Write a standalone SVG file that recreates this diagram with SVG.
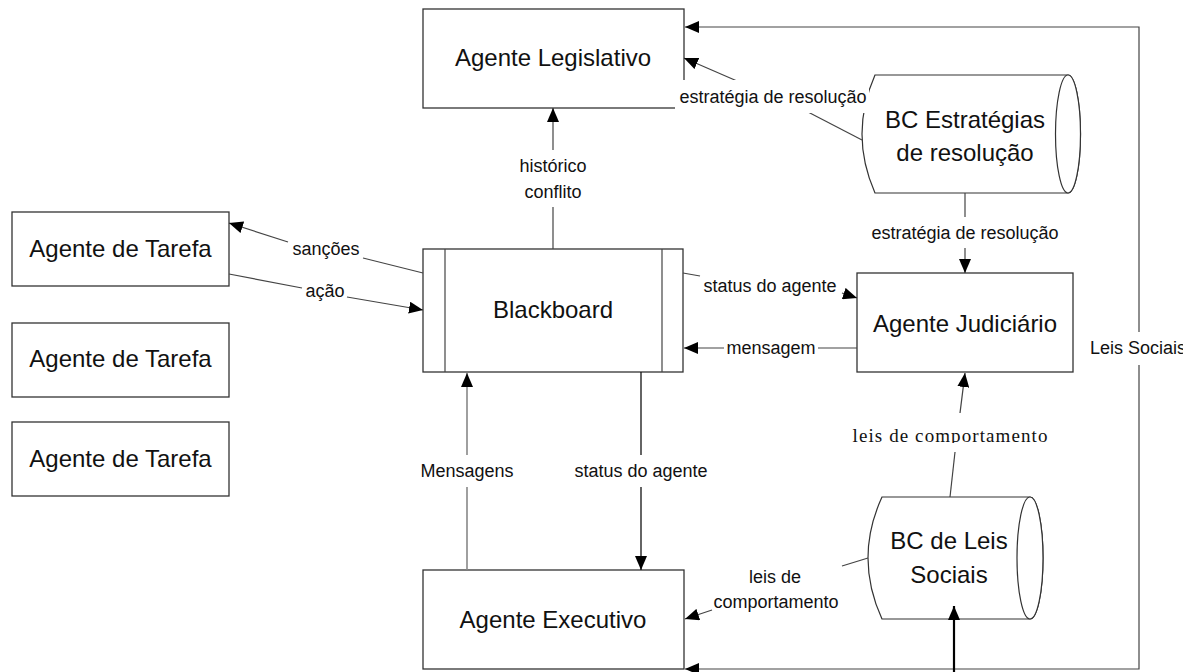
<svg xmlns="http://www.w3.org/2000/svg" width="1204" height="672" viewBox="0 0 1204 672">
  <defs>
    <style>
      .box { fill: #ffffff; stroke: #333333; stroke-width: 1.3; }
      .cyl { fill: #ffffff; stroke: #333333; stroke-width: 1.2; }
      .node-text { font-family: "Liberation Sans", Arial, sans-serif; font-size: 24px; fill: #111111; text-anchor: middle; }
      .lbl { font-family: "Liberation Sans", Arial, sans-serif; font-size: 18px; fill: #111111; text-anchor: middle; }
      .lbl-serif { font-family: "Liberation Serif", "Times New Roman", serif; font-size: 19px; fill: #111111; text-anchor: middle; }
      .conn { fill: none; stroke: #444444; stroke-width: 1.2; }
      .conn-grey { fill: none; stroke: #888888; stroke-width: 1.6; }
      .conn-dark { fill: none; stroke: #111111; stroke-width: 1.3; }
      .conn-thick { fill: none; stroke: #000000; stroke-width: 2.2; }
    </style>
    <marker id="arrow" markerUnits="userSpaceOnUse" markerWidth="14" markerHeight="12" refX="14" refY="6" orient="auto">
      <path d="M0,0 L14,6 L0,12 z" fill="#000000"/>
    </marker>
    <clipPath id="clip-leis-sociais">
      <rect x="1080" y="330" width="103" height="40"/>
    </clipPath>
    <clipPath id="clip-leis-comp">
      <rect x="840" y="420" width="220" height="23"/>
    </clipPath>
  </defs>

  <!-- Agentes de Tarefa -->
  <g id="agente-tarefa-1">
    <rect class="box" x="12" y="212" width="217" height="74"/>
    <text class="node-text" x="120.5" y="257">Agente de Tarefa</text>
  </g>
  <g id="agente-tarefa-2">
    <rect class="box" x="12" y="323" width="217" height="74"/>
    <text class="node-text" x="120.5" y="367">Agente de Tarefa</text>
  </g>
  <g id="agente-tarefa-3">
    <rect class="box" x="12" y="422" width="217" height="74"/>
    <text class="node-text" x="120.5" y="467">Agente de Tarefa</text>
  </g>

  <!-- Agente Legislativo -->
  <g id="agente-legislativo">
    <rect class="box" x="423" y="9" width="261" height="99"/>
    <text class="node-text" x="553" y="66">Agente Legislativo</text>
  </g>

  <!-- Blackboard -->
  <g id="blackboard">
    <rect class="box" x="423" y="249" width="260" height="123"/>
    <line class="conn" x1="445" y1="249" x2="445" y2="372"/>
    <line class="conn" x1="662" y1="249" x2="662" y2="372"/>
    <text class="node-text" x="553" y="318">Blackboard</text>
  </g>

  <!-- Agente Judiciario -->
  <g id="agente-judiciario">
    <rect class="box" x="857" y="273" width="216" height="99"/>
    <text class="node-text" x="965" y="332">Agente Judiciário</text>
  </g>

  <!-- Agente Executivo -->
  <g id="agente-executivo">
    <rect class="box" x="423" y="570" width="261" height="99"/>
    <text class="node-text" x="553" y="628">Agente Executivo</text>
  </g>

  <!-- Base de conhecimento: estrategias -->
  <g id="bc-estrategias">
    <path class="cyl" d="M875,75 H1068 A12.5,59 0 0 1 1068,193 H875 Q849,134 875,75 Z"/>
    <ellipse class="cyl" cx="1068" cy="134" rx="12.5" ry="59" fill="none"/>
    <text class="node-text" x="965" y="128">BC Estratégias</text>
    <text class="node-text" x="965" y="161">de resolução</text>
  </g>

  <!-- Base de conhecimento: leis sociais -->
  <g id="bc-leis-sociais">
    <path class="cyl" d="M882,497 H1030 A13,61 0 0 1 1030,619 H882 Q854,558 882,497 Z"/>
    <ellipse class="cyl" cx="1030" cy="558" rx="13" ry="61" fill="none"/>
    <text class="node-text" x="949" y="549">BC de Leis</text>
    <text class="node-text" x="949" y="583">Sociais</text>
  </g>

  <!-- Connectors -->
  <g id="connectors">
    <!-- historico / conflito: Blackboard -> Legislativo -->
    <line class="conn" x1="553" y1="249" x2="553" y2="207"/>
    <line class="conn" x1="553" y1="150" x2="553" y2="108" marker-end="url(#arrow)"/>
    <text class="lbl" x="553" y="172">histórico</text>
    <text class="lbl" x="553" y="198">conflito</text>

    <!-- estrategia de resolucao: BC Estrategias -> Legislativo -->
    <line class="conn" x1="862" y1="140" x2="808" y2="112"/>
    <line class="conn" x1="737" y1="81" x2="684" y2="58" marker-end="url(#arrow)"/>
    <rect x="675" y="80" width="194" height="33" fill="#ffffff"/>
    <text class="lbl" x="773" y="103">estratégia de resolução</text>

    <!-- estrategia de resolucao: BC Estrategias -> Judiciario -->
    <line class="conn" x1="965" y1="193" x2="965" y2="217"/>
    <line class="conn" x1="965" y1="248" x2="965" y2="273" marker-end="url(#arrow)"/>
    <text class="lbl" x="965" y="239">estratégia de resolução</text>

    <!-- sancoes: Blackboard -> Agente de Tarefa -->
    <line class="conn" x1="423" y1="273" x2="363" y2="258"/>
    <line class="conn" x1="288" y1="242" x2="229" y2="223" marker-end="url(#arrow)"/>
    <text class="lbl" x="326" y="255">sanções</text>

    <!-- acao: Agente de Tarefa -> Blackboard -->
    <line class="conn" x1="229" y1="274" x2="302" y2="288"/>
    <line class="conn" x1="347" y1="297" x2="423" y2="310" marker-end="url(#arrow)"/>
    <text class="lbl" x="325" y="297">ação</text>

    <!-- status do agente: Blackboard -> Judiciario -->
    <line class="conn" x1="683" y1="273" x2="700" y2="276"/>
    <line class="conn" x1="842" y1="293" x2="857" y2="298" marker-end="url(#arrow)"/>
    <text class="lbl" x="770" y="292">status do agente</text>

    <!-- mensagem: Judiciario -> Blackboard -->
    <line class="conn" x1="857" y1="348" x2="818" y2="348"/>
    <line class="conn" x1="724" y1="348" x2="684" y2="348" marker-end="url(#arrow)"/>
    <text class="lbl" x="771" y="354">mensagem</text>

    <!-- Mensagens: Executivo -> Blackboard -->
    <line class="conn-grey" x1="467" y1="570" x2="467" y2="487"/>
    <line class="conn-grey" x1="467" y1="455" x2="467" y2="373" marker-end="url(#arrow)"/>
    <text class="lbl" x="467" y="477">Mensagens</text>

    <!-- status do agente: Blackboard -> Executivo -->
    <line class="conn-dark" x1="641" y1="372" x2="641" y2="455"/>
    <line class="conn-dark" x1="641" y1="487" x2="641" y2="570" marker-end="url(#arrow)"/>
    <text class="lbl" x="641" y="477">status do agente</text>

    <!-- leis de comportamento: BC Leis Sociais -> Executivo -->
    <line class="conn" x1="868" y1="558" x2="842" y2="566"/>
    <line class="conn" x1="712" y1="610" x2="685" y2="619" marker-end="url(#arrow)"/>
    <text class="lbl" x="775" y="583">leis de</text>
    <text class="lbl" x="776" y="608">comportamento</text>

    <!-- leis de comportamento: BC Leis Sociais -> Judiciario -->
    <line class="conn" x1="950" y1="497" x2="955" y2="452"/>
    <line class="conn" x1="960" y1="413" x2="965" y2="373" marker-end="url(#arrow)"/>
    <text class="lbl-serif" x="950" y="442" textLength="195" lengthAdjust="spacing" clip-path="url(#clip-leis-comp)">leis de comportamento</text>

    <!-- Leis Sociais loop -->
    <path class="conn" d="M1139,332 V27 H685" marker-end="url(#arrow)"/>
    <path class="conn" d="M1139,365 V669 H685" marker-end="url(#arrow)"/>
    <text class="lbl" x="1090" y="354" text-anchor="start" style="text-anchor:start" clip-path="url(#clip-leis-sociais)">Leis Sociais</text>

    <!-- Leis Sociais input into BC -->
    <line class="conn-thick" x1="954" y1="672" x2="954" y2="606" marker-end="url(#arrow)"/>
  </g>
</svg>
